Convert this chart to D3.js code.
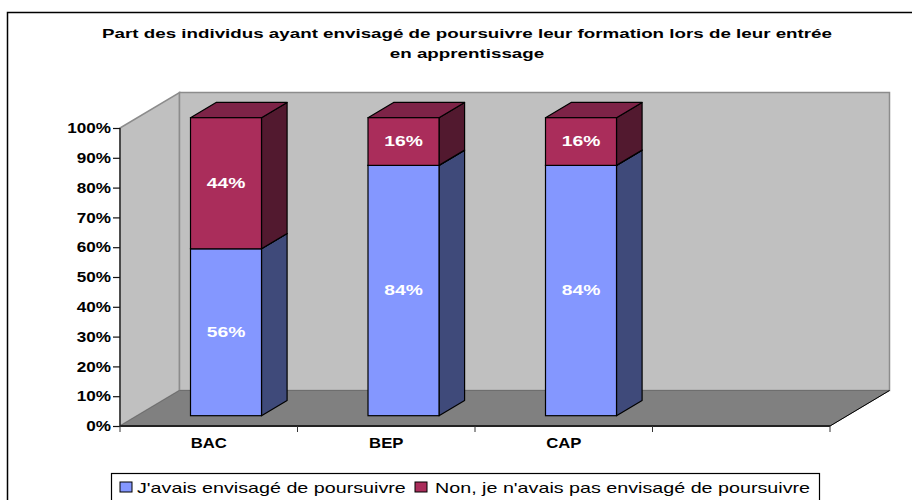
<!DOCTYPE html>
<html>
<head>
<meta charset="utf-8">
<script src="https://cdn.jsdelivr.net/npm/d3@7"></script>
<style>
html, body { margin: 0; padding: 0; background: #fff; overflow: hidden; }
text { font-family: "Liberation Sans", Arial, sans-serif; }
</style>
</head>
<body>
<div id="chart"></div>
<script>
var categories = ["BAC", "BEP", "CAP", ""];
var poursuivre = [56, 84, 84];
var nonPoursuivre = [44, 16, 16];
var percentTicks = [0, 10, 20, 30, 40, 50, 60, 70, 80, 90, 100];
var seriesNames = ["J'avais envisagé de poursuivre", "Non, je n'avais pas envisagé de poursuivre"];
var titleLines = ["Part des individus ayant envisagé de poursuivre leur formation lors de leur entrée", "en apprentissage"];

var svg = d3.select("#chart").append("svg")
    .attr("width", 912)
    .attr("height", 500);

// the original text is stretched sideways, so widen the glyphs by a factor
function stretch(selection, factor) {
    selection.each(function() {
        var w = this.getComputedTextLength();
        if (w > 0) {
            d3.select(this)
                .attr("textLength", w * factor)
                .attr("lengthAdjust", "spacingAndGlyphs");
        }
    });
}

// outer frame, runs off the right and bottom of the picture
svg.append("rect")
    .attr("x", 7.5).attr("y", 12.5)
    .attr("width", 960).attr("height", 560)
    .attr("fill", "#fff").attr("stroke", "#000").attr("stroke-width", 1.5);

svg.selectAll(".title")
    .data(titleLines)
    .enter()
    .append("text")
    .attr("class", "title")
    .attr("x", 467)
    .attr("y", function(d, i) { return 38 + i * 20; })
    .attr("text-anchor", "middle")
    .attr("font-size", "13.5px")
    .attr("font-weight", "bold")
    .text(function(d) { return d; })
    .call(stretch, 1.39);

var x = d3.scaleBand().domain(categories).range([120, 830]);
var y = d3.scaleLinear().domain([0, 100]).range([426, 128]);

// depth of the 3d box
var depthX = 59.5, depthY = -35.5;
function pts(list) {
    return list.map(function(p) { return p[0] + "," + p[1]; }).join(" ");
}

// walls and floor
var x0 = x.range()[0], x1 = x.range()[1], yB = y(0), yT = y(100);
svg.append("polygon")
    .attr("points", pts([[x0, yB], [x0 + depthX, yB + depthY], [x0 + depthX, yT + depthY], [x0, yT]]))
    .attr("fill", "#c0c0c0").attr("stroke", "#8c8c8c").attr("stroke-width", 1.5);
svg.append("polygon")
    .attr("points", pts([[x0 + depthX, yB + depthY], [x1 + depthX, yB + depthY], [x1 + depthX, yT + depthY], [x0 + depthX, yT + depthY]]))
    .attr("fill", "#c0c0c0").attr("stroke", "#8c8c8c").attr("stroke-width", 1.5);
svg.append("polygon")
    .attr("points", pts([[x0, yB], [x1, yB], [x1 + depthX, yB + depthY], [x0 + depthX, yB + depthY]]))
    .attr("fill", "#808080").attr("stroke", "#6e6e6e").attr("stroke-width", 1);
svg.append("line")
    .attr("x1", x1).attr("y1", yB).attr("x2", x1 + depthX).attr("y2", yB + depthY)
    .attr("stroke", "#000").attr("stroke-width", 1);

// axes
var yAxis = d3.axisLeft(y)
    .tickValues(percentTicks)
    .tickSize(7)
    .tickFormat(function(d) { return d + "%"; });
var gy = svg.append("g").attr("transform", "translate(" + x0 + ",0)").call(yAxis);
gy.selectAll("text")
    .attr("font-size", "14.5px")
    .attr("font-weight", "bold")
    .attr("fill", "#000")
    .attr("x", -9)
    .call(stretch, 1.18);
gy.selectAll("line").attr("stroke", "#111").attr("stroke-width", 1.2);
gy.select(".domain").attr("stroke", "#111").attr("stroke-width", 1.2).attr("d", "M0," + yT + "V" + yB);

svg.append("line")
    .attr("x1", x0).attr("x2", x1).attr("y1", yB).attr("y2", yB)
    .attr("stroke", "#222").attr("stroke-width", 2);
svg.selectAll(".xtick")
    .data(d3.range(categories.length + 1))
    .enter()
    .append("line")
    .attr("class", "xtick")
    .attr("x1", function(d) { return x0 + d * x.bandwidth(); })
    .attr("x2", function(d) { return x0 + d * x.bandwidth(); })
    .attr("y1", yB).attr("y2", yB + 6)
    .attr("stroke", "#333");
svg.selectAll(".xlabel")
    .data(categories)
    .enter()
    .append("text")
    .attr("class", "xlabel")
    .attr("x", function(d) { return x(d) + x.bandwidth() / 2; })
    .attr("y", 448)
    .attr("text-anchor", "middle")
    .attr("font-size", "14px")
    .attr("font-weight", "bold")
    .text(function(d) { return d; })
    .call(stretch, 1.19);

// stacked bars. bars sit part way into the depth of the box
var barStart = 0.29, barEnd = 0.72, barW = 71;
var stackColors = [
    { front: "#8497ff", top: "#6473c0", side: "#3f4a7a" },
    { front: "#aa2d5b", top: "#7d2347", side: "#52192f" }
];
var barData = [];
categories.slice(0, 3).forEach(function(c, i) {
    barData.push({ cat: c, s: 0, from: 0, to: poursuivre[i] });
    barData.push({ cat: c, s: 1, from: poursuivre[i], to: poursuivre[i] + nonPoursuivre[i] });
});

var bars = svg.selectAll(".bar").data(barData).enter().append("g").attr("class", "bar");

function left(d) { return x(d.cat) + x.bandwidth() / 2 - barW / 2 + depthX * barStart; }
var dx = depthX * (barEnd - barStart), dy = depthY * (barEnd - barStart), off = depthY * barStart;

bars.append("polygon")
    .attr("points", function(d) {
        var r = left(d) + barW, a = y(d.from) + off, b = y(d.to) + off;
        return pts([[r, a], [r + dx, a + dy], [r + dx, b + dy], [r, b]]);
    })
    .attr("fill", function(d) { return stackColors[d.s].side; })
    .attr("stroke", "#000").attr("stroke-width", 1.2).attr("stroke-linejoin", "round");
bars.append("polygon")
    .attr("points", function(d) {
        var l = left(d), b = y(d.to) + off;
        return pts([[l, b], [l + barW, b], [l + barW + dx, b + dy], [l + dx, b + dy]]);
    })
    .attr("fill", function(d) { return stackColors[d.s].top; })
    .attr("stroke", "#000").attr("stroke-width", 1.2).attr("stroke-linejoin", "round");
bars.append("rect")
    .attr("x", left)
    .attr("y", function(d) { return y(d.to) + off; })
    .attr("width", barW)
    .attr("height", function(d) { return y(d.from) - y(d.to); })
    .attr("fill", function(d) { return stackColors[d.s].front; })
    .attr("stroke", "#000").attr("stroke-width", 1.2);
bars.append("text")
    .attr("x", function(d) { return left(d) + barW / 2; })
    .attr("y", function(d) { return y((d.from + d.to) / 2) + off + 4.5; })
    .attr("text-anchor", "middle")
    .attr("fill", "#fff")
    .attr("font-size", "14.5px")
    .attr("font-weight", "bold")
    .text(function(d) { return (d.to - d.from) + "%"; })
    .call(stretch, 1.33);

// legend
svg.append("rect")
    .attr("x", 111.5).attr("y", 473.5)
    .attr("width", 708).attr("height", 40)
    .attr("fill", "#fff").attr("stroke", "#000").attr("stroke-width", 1.2);
var legendX = [120, 415];
var legend = svg.selectAll(".legendItem")
    .data(seriesNames)
    .enter()
    .append("g")
    .attr("class", "legendItem")
    .attr("transform", function(d, i) { return "translate(" + legendX[i] + ",482)"; });
legend.append("rect")
    .attr("width", 12).attr("height", 10)
    .attr("fill", function(d, i) { return stackColors[i].front; })
    .attr("stroke", "#000");
legend.append("text")
    .attr("x", function(d, i) { return i == 0 ? 17 : 20; })
    .attr("y", 11)
    .attr("font-size", "14.6px")
    .text(function(d) { return d; })
    .call(stretch, 1.35);
</script>
</body>
</html>
